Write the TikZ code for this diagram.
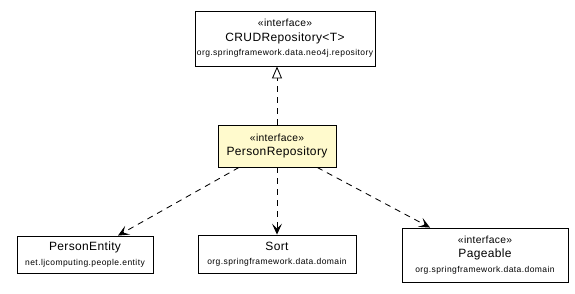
\documentclass[tikz,border=0pt]{standalone}
\usepackage{fontspec}
\setmainfont{Liberation Sans}
\newfontfamily\clsfont[LetterSpace=3]{Liberation Sans}
\newfontfamily\pkgfont[LetterSpace=5]{Liberation Sans}
\usepackage{xcolor}
\usepackage{tikz}
\usetikzlibrary{arrows.meta,positioning}

\definecolor{ifacefill}{RGB}{255,250,205}

% one line each: stereotype, class name, package
\newcommand{\stereo}[1]{{\clsfont\fontsize{10.3}{14.5}\selectfont #1}}
\newcommand{\clsname}[1]{{\clsfont\fontsize{12}{14.5}\selectfont #1}}
\newcommand{\pkgname}[1]{{\pkgfont\fontsize{8.5}{14.5}\selectfont #1}}

\begin{document}
\begin{tikzpicture}[
    x=1pt, y=-1pt,
    cls/.style   = {draw, line width=0.9pt, fill=white, align=center,
                    inner sep=0pt, font=\fontsize{9}{14.5}\selectfont},
    focus/.style = {cls, fill=ifacefill},
    dep/.style   = {line width=0.85pt, dash pattern=on 6pt off 5pt,
                    -{Stealth[length=11pt,width=10pt,inset=5pt]}},
    gen/.style   = {line width=0.85pt, dash pattern=on 6pt off 5pt,
                    -{Triangle[open,length=12pt,width=10pt,fill=white]}}
]
    \useasboundingbox (0,0) rectangle (575,293);

    %-- classes ----------------------------------------------------------------
    \node[cls, minimum width=180pt, minimum height=55pt] (crud) at (285,38.5)
        {\stereo{«interface»}\\\clsname{CRUDRepository<T>}\\
         \pkgname{org.springframework.data.neo4j.repository}};

    \node[focus, minimum width=118pt, minimum height=42pt] (repo) at (277,146)
        {\stereo{«interface»}\\\clsname{PersonRepository}};

    \node[cls, minimum width=136pt, minimum height=37pt] (entity) at (85,254.5)
        {\clsname{PersonEntity}\\\pkgname{net.ljcomputing.people.entity}};

    \node[cls, minimum width=158pt, minimum height=38pt] (sort) at (277,254)
        {\clsname{Sort}\\\pkgname{org.springframework.data.domain}};

    \node[cls, minimum width=166pt, minimum height=54pt] (pageable) at (485,255)
        {\stereo{«interface»}\\\clsname{Pageable}\\
         \pkgname{org.springframework.data.domain}};

    %-- realization up to the parent interface ---------------------------------
    \draw[gen] (repo.north) -- ([xshift=-8pt]crud.south);

    %-- dependencies ------------------------------------------------------------
    \draw[dep] (repo) -- ([xshift=33pt]entity.north);
    \draw[dep] (repo.south) -- (sort.north);
    \draw[dep] (repo) -- ([xshift=-55pt]pageable.north);

\end{tikzpicture}
\end{document}
